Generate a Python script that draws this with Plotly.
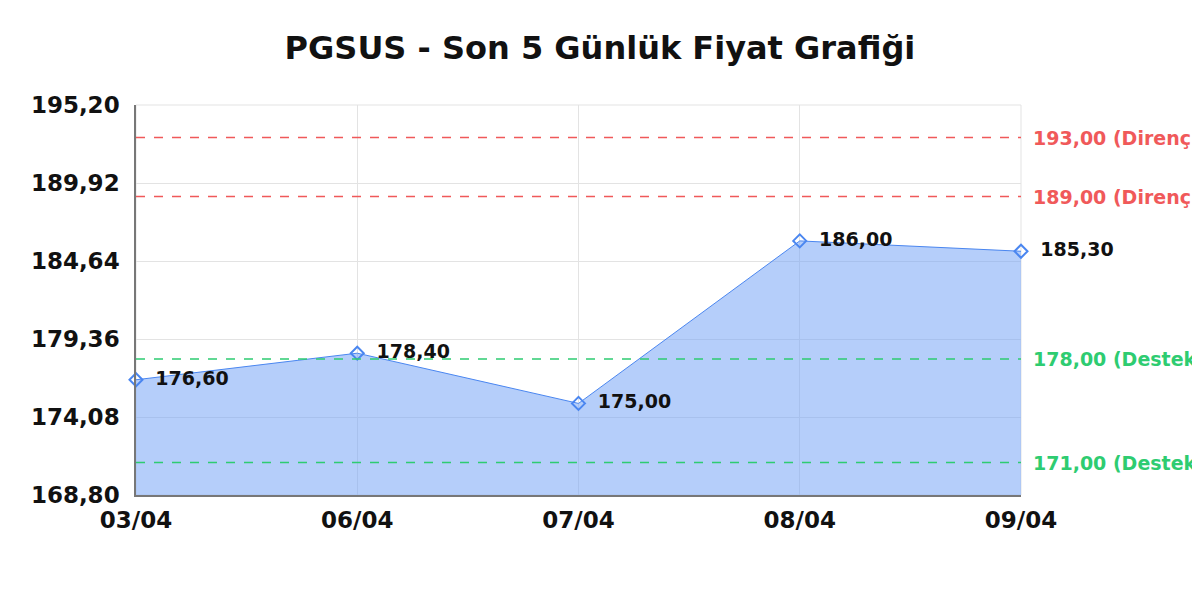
import plotly.graph_objects as go

# Price data for the last 5 days
dates = ["03/04", "06/04", "07/04", "08/04", "09/04"]
prices = [176.60, 178.40, 175.00, 186.00, 185.30]

# Support / resistance levels
levels = [193.00, 189.00, 178.00, 171.00]
level_kinds = ["Direnç", "Direnç", "Destek", "Destek"]

y_ticks = [168.80, 174.08, 179.36, 184.64, 189.92, 195.20]

RED = "#f0595a"
GREEN = "#2ecc71"
BLUE = "#4a86f0"


def fmt(v):
    return f"{v:.2f}".replace(".", ",")


fig = go.Figure()

fig.add_trace(go.Scatter(
    x=list(range(len(dates))),
    y=prices,
    mode="lines+markers+text",
    fill="tozeroy",
    fillcolor="rgba(120,165,245,0.55)",
    line=dict(color=BLUE, width=1),
    marker=dict(symbol="diamond-open", size=10, color=BLUE, line=dict(width=2, color=BLUE)),
    # two spaces keep a small gap between marker and label
    text=["  <b>" + fmt(p) + "</b>" for p in prices],
    textposition="middle right",
    textfont=dict(family="DejaVu Sans", size=19, color="#111111"),
    cliponaxis=False,
    hoverinfo="skip",
))

# Dashed horizontal lines with labels on the right
for lvl, kind in zip(levels, level_kinds):
    col = RED if kind == "Direnç" else GREEN
    fig.add_shape(type="line", xref="paper", yref="y", x0=0, x1=1, y0=lvl, y1=lvl,
                  line=dict(color=col, width=1.5, dash="dash"))
    fig.add_annotation(xref="paper", yref="y", x=1, y=lvl, xanchor="left", xshift=10,
                       text=f"<b>{fmt(lvl)} ({kind})</b>", showarrow=False,
                       font=dict(family="DejaVu Sans", size=19, color=col))

fig.update_layout(
    width=1200, height=600,
    margin=dict(l=128, r=187, t=97, b=113),
    paper_bgcolor="white",
    plot_bgcolor="white",
    showlegend=False,
    title=dict(text="<b>PGSUS - Son 5 Günlük Fiyat Grafiği</b>", x=0.4933, xanchor="center",
               y=0.933, yanchor="middle",
               font=dict(family="DejaVu Sans", size=32, color="#111111")),
    xaxis=dict(
        range=[0, 4],
        tickvals=list(range(len(dates))),
        ticktext=[f"<b>{d}</b>" for d in dates],
        tickfont=dict(family="DejaVu Sans", size=23, color="#111111"),
        showgrid=True, gridcolor="#e3e3e3",
        showline=True, linecolor="#777777", linewidth=1.5,
        mirror=False, zeroline=False, ticks="", ticklen=0, ticklabelstandoff=4,
    ),
    yaxis=dict(
        range=[168.80, 195.20],
        tickvals=y_ticks,
        ticktext=[f"<b>{fmt(t)}</b>" for t in y_ticks],
        tickfont=dict(family="DejaVu Sans", size=23, color="#111111"),
        showgrid=True, gridcolor="#e3e3e3",
        showline=True, linecolor="#777777", linewidth=1.5,
        zeroline=False, ticks="", ticklabelstandoff=10,
    ),
)

# light border on top and right
fig.add_shape(type="rect", xref="paper", yref="paper", x0=0, x1=1, y0=0, y1=1,
              line=dict(color="#e3e3e3", width=1), layer="below")

fig.write_html("out.html")
